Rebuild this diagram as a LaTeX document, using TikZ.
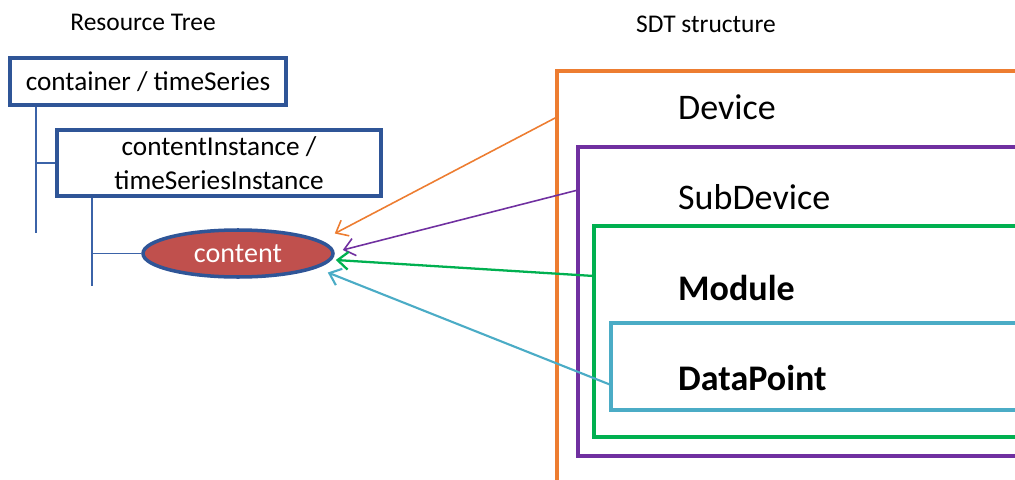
\documentclass[tikz,border=0pt]{standalone}
\usepackage{fontspec}
\setmainfont{Carlito}
\usepackage{xcolor}
\usetikzlibrary{positioning, arrows.meta, shapes}

\definecolor{treeblue}{HTML}{2F5597}
\definecolor{linkblue}{HTML}{3B63A8}
\definecolor{cred}{HTML}{C0504D}
\definecolor{devorange}{HTML}{ED7D31}
\definecolor{subpurple}{HTML}{7030A0}
\definecolor{modgreen}{HTML}{00B050}
\definecolor{dpcyan}{HTML}{4BACC6}

\tikzset{
    treebox/.style={draw=treeblue, line width=2pt, inner sep=2pt, align=center, font=\fontsize{15.5}{17}\selectfont},
    treeline/.style={linkblue, line width=1pt},
    sdtbox/.style={line width=2pt},
    sdtlabel/.style={anchor=west, font=\fontsize{20.5}{22}\selectfont},
    link/.style={-{Straight Barb[length=6pt, width=10pt]}, line width=0.9pt}
}

\begin{document}
\begin{tikzpicture}[x=0.02cm, y=-0.02cm]
    \useasboundingbox (0,0) rectangle (1015,480);
    \clip (0,0) rectangle (1015,480);

    % headings
    \node[font=\fontsize{14.5}{16}\selectfont] (rtitle) at (143,22) {Resource Tree};
    \node[font=\fontsize{14.5}{16}\selectfont] (stitle) at (706,24) {SDT structure};

    % resource tree
    \node[treebox, minimum width=276*0.02cm, minimum height=47*0.02cm] (cont) at (148,81.5) {container / timeSeries};
    \node[treebox, minimum width=324*0.02cm, minimum height=66*0.02cm] (inst) at (219,163) {contentInstance /\\[2pt] timeSeriesInstance};
    \node[ellipse, draw=treeblue, line width=2pt, fill=cred, text=white,
          minimum width=190*0.02cm, minimum height=47*0.02cm, inner sep=0pt,
          font=\fontsize{16}{18}\selectfont] (content) at (238,253.5) {content};

    \coordinate (t1) at (36,233);
    \coordinate (t2) at (92,286);
    \draw[treeline] (cont.south west -| t1) -- (t1);
    \draw[treeline] (inst.west -| t1) -- (inst.west);
    \draw[treeline] (inst.south west -| t2) -- (t2);
    \draw[treeline] (content.west -| t2) -- (content.west);

    % SDT structure
    \draw[sdtbox, devorange] (1030,71) -- (557,71) -- (557,500);
    \draw[sdtbox, subpurple] (1030,147) -- (578,147) -- (578,456) -- (1030,456);
    \draw[sdtbox, modgreen] (1030,226) -- (594,226) -- (594,437) -- (1030,437);
    \draw[sdtbox, dpcyan] (1030,323) -- (611,323) -- (611,410) -- (1030,410);

    \node[sdtlabel] (device) at (672,107) {Device};
    \node[sdtlabel] (subdev) at (672,197) {SubDevice};
    \node[sdtlabel, font=\fontsize{20.5}{22}\selectfont\bfseries] (module) at (672,288) {Module};
    \node[sdtlabel, font=\fontsize{20.5}{22}\selectfont\bfseries] (dpoint) at (672,378) {DataPoint};

    \coordinate (devL) at (557,117);
    \coordinate (subL) at (578,190);
    \coordinate (modL) at (594,276);
    \coordinate (dpL) at (611,385);

    % links
    \draw[link, devorange] (devL) -- ([shift={(0,-20)}]content.east);
    \draw[link, subpurple] (subL) -- ([shift={(8,-3.5)}]content.east);
    \draw[link, modgreen, line width=1.3pt] (modL) -- ([shift={(1,6.5)}]content.east);
    \draw[link, dpcyan, line width=1.2pt] (dpL) -- ([shift={(-7,19)}]content.east);
\end{tikzpicture}
\end{document}
